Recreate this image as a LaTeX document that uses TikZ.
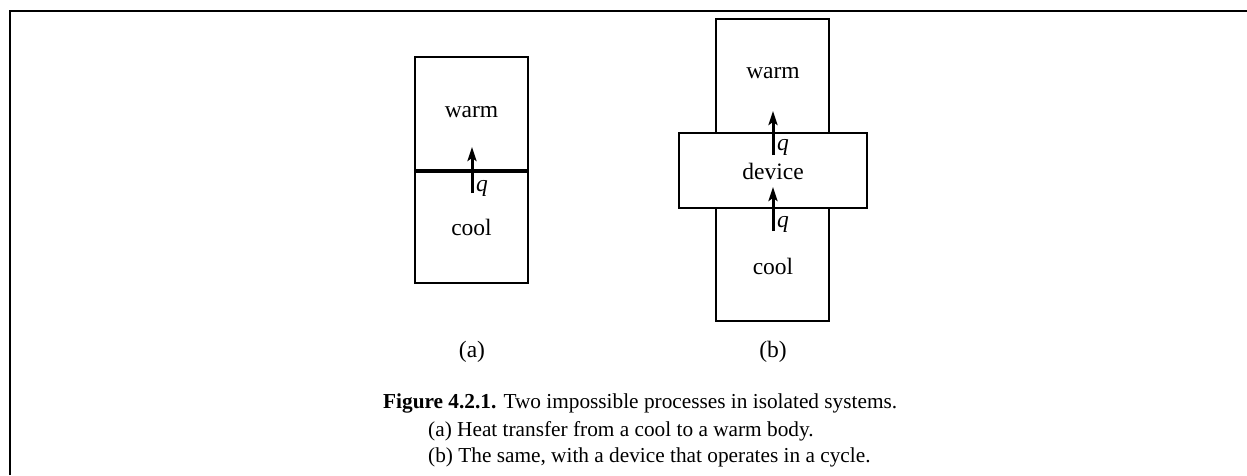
\documentclass[tikz,border=0pt]{standalone}
\usepackage{fontspec}
\setmainfont{Liberation Serif}
\usetikzlibrary{arrows.meta}
\begin{document}
\begin{tikzpicture}[x=1pt,y=-1pt,
  box/.style={draw,line width=2.2pt,inner sep=0pt,anchor=center},
  lbl/.style={inner sep=0pt,font=\fontsize{23.5}{28}\selectfont},
  qlbl/.style={inner sep=0pt,anchor=base west,font=\fontsize{23.5}{28}\selectfont\itshape},
  heat/.style={line width=3pt,-{Stealth[length=14pt,width=9pt,inset=3pt]}},
  captext/.style={inner sep=0pt,anchor=base west,font=\fontsize{21.3}{25}\selectfont}]
\useasboundingbox (0,0) rectangle (1247,475);
% frame
\draw[line width=2.6pt] (10,475) -- (10,11) -- (1247,11);
% (a)
\node[box,minimum width=113pt,minimum height=113pt] (warmA) at (471.5,113.5) {};
\node[box,minimum width=113pt,minimum height=113pt] (coolA) at (471.5,226.5) {};
\draw[line width=2.8pt] (warmA.south west) -- (warmA.south east);
\node[lbl] (twarmA) at (471.5,112) {warm};
\node[lbl] (tcoolA) at (471.5,227) {cool};
\coordinate (qa0) at (472,193);
\coordinate (qa1) at (472,147);
\draw[heat] (qa0) -- (qa1);
\node[qlbl] (qA) at (476,191) {q};
\node[lbl] (labA) at (472,352) {(a)};
% (b)
\node[box,minimum width=113pt,minimum height=302pt] (bodyB) at (772.5,170) {};
\node[box,fill=white,minimum width=188pt,minimum height=75pt] (devB) at (773,170.5) {};
\node[lbl] (twarmB) at (773,73) {warm};
\node[lbl] (tdevB) at (773,171) {device};
\node[lbl] (tcoolB) at (773,266) {cool};
\coordinate (qb0) at (773,155);
\coordinate (qb1) at (773,111);
\draw[heat] (qb0) -- (qb1);
\node[qlbl] (qB1) at (777,150.5) {q};
\coordinate (qc0) at (773,231);
\coordinate (qc1) at (773,187);
\draw[heat] (qc0) -- (qc1);
\node[qlbl] (qB2) at (777,227.5) {q};
\node[lbl] (labB) at (773,352) {(b)};
% caption
\node[captext] (cap1) at (383,408) {\textbf{Figure 4.2.1.} Two impossible processes in isolated systems.};
\node[captext] (cap2) at (428,436) {(a) Heat transfer from a cool to a warm body.};
\node[captext] (cap3) at (428,462) {(b) The same, with a device that operates in a cycle.};
\end{tikzpicture}
\end{document}
